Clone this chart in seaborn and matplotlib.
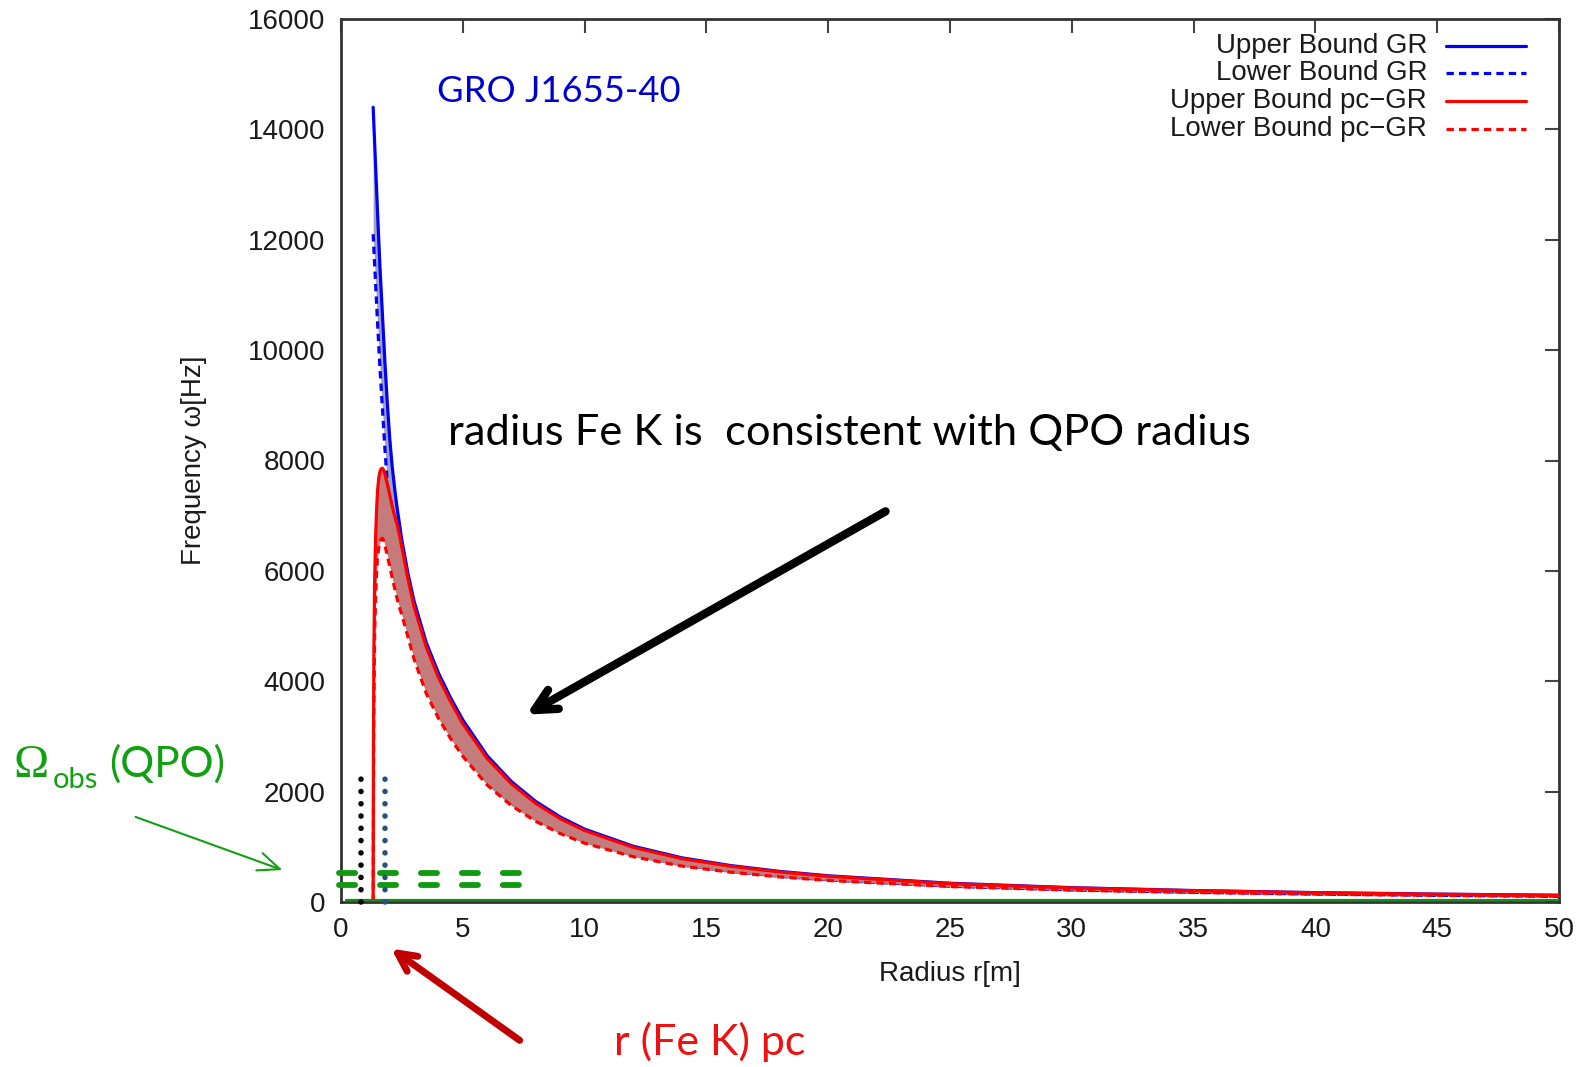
import numpy as np
import pandas as pd
import matplotlib
matplotlib.use("Agg")
import matplotlib.pyplot as plt
import seaborn as sns

# ---------------- data ----------------
r_gr = [1.32, 1.4, 1.5, 1.6, 1.7, 1.8, 1.9, 2.0, 2.1, 2.2, 2.3, 2.4, 2.5, 2.75, 3.0,
        3.5, 4, 4.5, 5, 6, 7, 8, 9, 10, 12, 14, 16, 18, 20, 25, 30, 35, 40, 45, 50]
gr_upper = [14400, 13550, 12500, 11500, 10650, 9800, 9050, 8400, 7900, 7500, 7150,
            6850, 6550, 5950, 5450, 4700, 4150, 3700, 3300, 2650, 2180, 1820, 1540,
            1320, 1010, 800, 660, 555, 475, 340, 260, 208, 170, 143, 122]
gr_lower = [12100, 11380, 10500, 9660, 8950, 8230, 7600, 7060, 6640, 6300, 6010,
            5750, 5500, 5000, 4580, 3950, 3490, 3110, 2770, 2230, 1830, 1530, 1290,
            1110, 850, 670, 555, 466, 400, 286, 218, 175, 143, 120, 102]

r_pc = [1.32, 1.33, 1.35, 1.38, 1.42, 1.46, 1.50, 1.55, 1.60, 1.65, 1.70, 1.75, 1.80,
        1.90, 2.0, 2.1, 2.2, 2.3, 2.4, 2.5, 2.75, 3.0, 3.5, 4, 4.5, 5, 6, 7, 8, 9, 10,
        12, 14, 16, 18, 20, 25, 30, 35, 40, 45, 50]
pc_upper = [0, 2500, 4500, 5800, 6600, 7100, 7450, 7680, 7800, 7850, 7860, 7830, 7760,
            7580, 7380, 7180, 7000, 6850, 6650, 6420, 5850, 5350, 4620, 4070, 3630,
            3230, 2600, 2140, 1785, 1510, 1295, 990, 785, 648, 545, 466, 333, 255,
            204, 167, 140, 120]
pc_lower = [0, 1500, 3500, 4800, 5500, 5950, 6250, 6420, 6530, 6580, 6590, 6550, 6470,
            6280, 6080, 5880, 5690, 5500, 5340, 5200, 4800, 4400, 3780, 3330, 2960,
            2640, 2120, 1745, 1460, 1240, 1065, 820, 650, 540, 455, 390, 280, 215,
            173, 142, 120, 103]

qpo_r = [-0.1, 7.6]
qpo_upper = [530, 530]
qpo_lower = [300, 300]
base_r = [0.2, 50]
base_w = [36, 36]
isco_black_r = [0.81, 0.81]
isco_blue_r = [1.82, 1.82]
dots_w = [0, 2280]

legend_labels = ["Upper Bound GR", "Lower Bound GR", "Upper Bound pc\u2212GR", "Lower Bound pc\u2212GR"]
x_ticks = list(range(0, 51, 5))
y_ticks = list(range(0, 16001, 2000))

# ---------------- styling ----------------
sns.set_theme(style="white")
plt.rcParams["font.family"] = ["Liberation Sans", "DejaVu Sans"]

W, H = 1585, 1067
fig = plt.figure(figsize=(W / 100, H / 100), dpi=100)
L, R, T, B = 341, 1559, 19, 902
ax = fig.add_axes([L / W, 1 - B / H, (R - L) / W, (B - T) / H])

def fp(x, y):
    return (x / W, 1 - y / H)

BLUE = "#0000ff"
RED = "#ff0000"
lw = 2.3
DASH = (2.3, 1.6)

gr = pd.DataFrame({"r": r_gr, "up": gr_upper, "lo": gr_lower})
pc = pd.DataFrame({"r": r_pc, "up": pc_upper, "lo": pc_lower})

ax.fill_between(gr["r"], gr["lo"], gr["up"], color="#a2a2c0", lw=0, zorder=1)
sns.lineplot(data=gr, x="r", y="up", ax=ax, color=BLUE, lw=lw, zorder=2, sort=False)
sns.lineplot(data=gr, x="r", y="lo", ax=ax, color=BLUE, lw=lw, zorder=2, sort=False).lines[-1].set_dashes(DASH)
ax.fill_between(pc["r"], pc["lo"], pc["up"], color="#c47b7b", lw=0, zorder=3)
sns.lineplot(data=pc, x="r", y="up", ax=ax, color=RED, lw=lw, zorder=4, sort=False)
sns.lineplot(data=pc, x="r", y="lo", ax=ax, color=RED, lw=lw, zorder=4, sort=False).lines[-1].set_dashes(DASH)

# observed QPO (green) and markers
for qv in (qpo_upper, qpo_lower):
    ax.plot(qpo_r, qv, color="#109a10", lw=4.2, dashes=(2.76, 4.26), dash_capstyle="round",
            clip_on=False, zorder=6)
ax.plot(base_r, base_w, color="#1a8a1a", lw=1.6, zorder=5)
ax.plot(isco_black_r, dots_w, color="black", lw=4, dashes=(0.01, 2.2),
        dash_capstyle="round", zorder=7, clip_on=False)
ax.plot(isco_blue_r, dots_w, color="#2a5080", lw=4, dashes=(0.01, 2.2),
        dash_capstyle="round", zorder=7, clip_on=False)

ax.set_xlim(0, 50)
ax.set_ylim(0, 16000)
ax.set_xticks(x_ticks)
ax.set_yticks(y_ticks)
ax.tick_params(direction="in", length=10, width=1.5, color="#444444",
               top=True, right=True, labelsize=20, labelcolor="#1a1a1a")
ax.tick_params(axis="x", pad=11)
ax.tick_params(axis="y", pad=11)
for s in ax.spines.values():
    s.set_color("#333333")
    s.set_linewidth(2)
ax.set_xlabel("Radius r[m]", fontsize=20, color="#1a1a1a", labelpad=13)
ax.set_ylabel("Frequency \u03c9[Hz]", fontsize=20, color="#1a1a1a", labelpad=30)

# legend (gnuplot style: text then sample)
leg_y = [46, 73, 101, 129]
styles = [(BLUE, None), (BLUE, DASH), (RED, None), (RED, DASH)]
for lab, yy, (c, d) in zip(legend_labels, leg_y, styles):
    fig.text(*fp(1427, yy), lab, ha="right", va="center", fontsize=19.9, color="#1a1a1a")
    ln = plt.Line2D([1446 / W, 1526 / W], [1 - yy / H, 1 - yy / H], color=c, lw=lw,
                    transform=fig.transFigure)
    if d:
        ln.set_dashes(d)
    fig.add_artist(ln)

# annotations
cal = ["Lato", "DejaVu Sans"]
fig.text(*fp(437, 92), "GRO J1655-40", ha="left", va="center", fontsize=26.2,
         color="#0000cc", family=cal)
fig.text(*fp(448, 433), "radius Fe K is  consistent with QPO radius", ha="left",
         va="center", fontsize=31.3, color="black", family=cal)
fig.text(*fp(13, 777), "\u03a9", ha="left", va="baseline", fontsize=34, color="#10a010",
         family=["Liberation Serif", "DejaVu Serif"])
fig.text(*fp(53, 788), "obs", ha="left", va="baseline", fontsize=21, color="#10a010", family=cal)
fig.text(*fp(109, 777), "(QPO)", ha="left", va="baseline", fontsize=30.5, color="#10a010", family=cal)
fig.text(*fp(614, 1042), "r (Fe K) pc", ha="left", va="center", fontsize=31,
         color="#ee1111", family=cal)

ax.annotate("", xy=fp(524, 716), xytext=fp(888, 510), xycoords="figure fraction",
            textcoords="figure fraction",
            arrowprops=dict(arrowstyle="->,head_length=1.3,head_width=0.65", lw=6, color="black"))
ax.annotate("", xy=fp(285, 871), xytext=fp(133, 816), xycoords="figure fraction",
            textcoords="figure fraction",
            arrowprops=dict(arrowstyle="->,head_length=1.3,head_width=0.55", lw=1.5, color="#10a010"))
ax.annotate("", xy=fp(389, 947), xytext=fp(522, 1042), xycoords="figure fraction",
            textcoords="figure fraction",
            arrowprops=dict(arrowstyle="->,head_length=1.1,head_width=0.55", lw=5, color="#c00000"))

fig.savefig("out.png", dpi=100)
